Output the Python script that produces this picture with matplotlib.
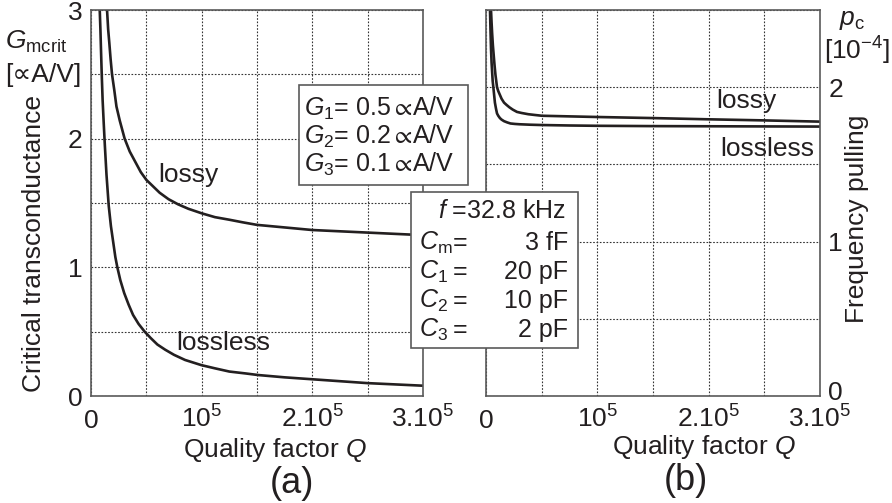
import matplotlib
matplotlib.use("Agg")
import matplotlib.pyplot as plt
import matplotlib.transforms as mtrans
from matplotlib.patches import Rectangle

plt.rcParams['font.family'] = ['Liberation Sans', 'DejaVu Sans']
plt.rcParams['mathtext.fontset'] = 'custom'
plt.rcParams['mathtext.rm'] = 'Liberation Sans'
plt.rcParams['mathtext.it'] = 'Liberation Sans:italic'
plt.rcParams['mathtext.bf'] = 'Liberation Sans:bold'
plt.rcParams['mathtext.fallback'] = 'stixsans'

########### DATA ###########
# (a) critical transconductance vs quality factor
q_a_lossless = [7900, 8500, 9000, 9700, 10500, 11500, 12500, 14000, 16000, 18000,
                20000, 22000, 23800, 26500, 30000, 34000, 38000, 43000, 48500, 54000,
                60000, 67000, 75000, 85000, 99700, 112000, 125000, 140000, 151000,
                175000, 200000, 225000, 250000, 275000, 300000]
g_lossless = [3.0, 2.85, 2.7, 2.5, 2.3, 2.12, 1.95, 1.72, 1.48, 1.32,
              1.2, 1.08, 1.0, 0.9, 0.8, 0.71, 0.63, 0.56, 0.5, 0.45,
              0.40, 0.36, 0.32, 0.28, 0.24, 0.215, 0.19, 0.175, 0.163,
              0.145, 0.13, 0.115, 0.10, 0.09, 0.08]
q_a_lossy = [14500, 15500, 16500, 17700, 19000, 21000, 23000, 26000, 30400, 35000,
             40000, 45000, 50000, 56000, 62000, 70000, 78600, 88000, 100000, 112000,
             125000, 137000, 150000, 175000, 200000, 225000, 250000, 275000, 300000]
g_lossy = [3.0, 2.85, 2.75, 2.62, 2.5, 2.38, 2.25, 2.14, 2.0, 1.9,
           1.82, 1.74, 1.68, 1.63, 1.58, 1.53, 1.49, 1.455, 1.42, 1.39,
           1.37, 1.35, 1.33, 1.31, 1.29, 1.28, 1.27, 1.26, 1.25]

# (b) frequency pulling vs quality factor
q_b_lossless = [3600, 4000, 4500, 5000, 5500, 6000, 6600, 7300, 8000, 9000,
                9900, 11000, 12500, 14000, 16200, 19000, 22000, 26000, 30000, 40000,
                50000, 75000, 100000, 150000, 200000, 300000]
p_lossless = [2.5, 2.38, 2.25, 2.16, 2.1, 2.04, 2.0, 1.95, 1.9, 1.86,
              1.83, 1.815, 1.8, 1.79, 1.78, 1.772, 1.765, 1.762, 1.76, 1.757,
              1.755, 1.752, 1.75, 1.748, 1.747, 1.745]
q_b_lossy = [4500, 5000, 5500, 6200, 7000, 7700, 8500, 9200, 9900, 11000,
             12500, 14000, 16200, 18500, 21000, 24000, 27800, 32000, 38000, 44000,
             50300, 75000, 100000, 150000, 200000, 250000, 300000]
p_lossy = [2.5, 2.42, 2.35, 2.27, 2.2, 2.14, 2.08, 2.04, 2.0, 1.975,
           1.95, 1.925, 1.9, 1.885, 1.87, 1.855, 1.84, 1.833, 1.825, 1.82,
           1.815, 1.811, 1.807, 1.8, 1.792, 1.785, 1.777]

x_ticks = [0, 50000, 100000, 150000, 200000, 250000, 300000]
x_ticklabels = ["0", "", "$10^5$", "", "$2.10^5$", "", "$3.10^5$"]
ya_ticks = [0, 0.5, 1, 1.5, 2, 2.5, 3]
ya_ticklabels = ["0", "", "1", "", "2", "", "3"]
yb_ticks = [0, 0.5, 1, 1.5, 2, 2.5]
yb_ticklabels = ["0", "", "1", "", "2", ""]

g_lines = [r"$G_1$= 0.5$\propto\!$A/V", r"$G_2$= 0.2$\propto\!$A/V",
           r"$G_3$= 0.1$\propto\!$A/V"]
c_names = [r"$C_{\rm m}$", r"$C_1$", r"$C_2$", r"$C_3$"]
c_values = ["3 fF", "20 pF", "10 pF", "2 pF"]
###################################################

W, H = 892, 503
INK = '#231f20'
EDGE = '#5a5a5a'
FS = 19
BOX_FS = 18


def fx(x):
    return x / W


def fy(y):
    return 1 - y / H


fig = plt.figure(figsize=(W / 100, H / 100), dpi=100)
ax_a = fig.add_axes([fx(91), fy(396), fx(423) - fx(91), fy(10) - fy(396)])
ax_b = fig.add_axes([fx(486), fy(396), fx(820) - fx(486), fy(10) - fy(396)])


def style(ax, yticks, ylabels, ymax, right=False):
    ax.set_xlim(0, 300000)
    ax.set_ylim(0, ymax)
    ax.set_xticks(x_ticks)
    ax.set_xticklabels(x_ticklabels)
    ax.set_yticks(yticks)
    ax.set_yticklabels(ylabels)
    if right:
        ax.yaxis.tick_right()
    ax.tick_params(length=0, labelsize=FS, colors=INK)
    ax.tick_params(axis='y', pad=6)
    ax.tick_params(axis='x', pad=23)
    for lbl in ax.get_xticklabels():
        lbl.set_va('baseline')
    ax.grid(True, linestyle=(0, (1.5, 1.5)), color='#333333', linewidth=0.8)
    for s in ax.spines.values():
        s.set_color(EDGE)
        s.set_linewidth(1.2)


style(ax_a, ya_ticks, ya_ticklabels, 3)
style(ax_b, yb_ticks, yb_ticklabels, 2.5, right=True)

# the right-hand "0" sits a little higher, clear of the 3.10^5 label
zero_lbl = ax_b.yaxis.get_major_ticks()[0].label2
zero_lbl.set_transform(zero_lbl.get_transform() +
                       mtrans.ScaledTranslation(0, 6 / 100, fig.dpi_scale_trans))

ax_a.plot(q_a_lossless, g_lossless, color=INK, lw=1.9)
ax_a.plot(q_a_lossy, g_lossy, color=INK, lw=1.9)
ax_b.plot(q_b_lossless, p_lossless, color=INK, lw=1.9)
ax_b.plot(q_b_lossy, p_lossy, color=INK, lw=1.9)

# curve labels
fig.text(fx(158), fy(182), "lossy", fontsize=FS, color=INK, va='baseline')
fig.text(fx(176), fy(350), "lossless", fontsize=FS, color=INK, va='baseline')
fig.text(fx(716), fy(108), "lossy", fontsize=FS, color=INK, va='baseline')
fig.text(fx(720), fy(156), "lossless", fontsize=FS, color=INK, va='baseline')

# axis titles
fig.text(fx(5), fy(49), r"$G_{\rm mcrit}$", fontsize=FS, color=INK, va='baseline')
fig.text(fx(5), fy(82), "[\u221dA/V]", fontsize=FS, color=INK, va='baseline')
fig.text(fx(34), fy(243), "Critical transconductance", fontsize=FS, color=INK,
         rotation=90, ha='center', va='center')
fig.text(fx(839), fy(25), r"$p_{\rm c}$", fontsize=FS, color=INK, va='baseline')
fig.text(fx(824), fy(60), r"[10$^{-4}$]", fontsize=FS, color=INK, va='baseline')
fig.text(fx(857), fy(219), "Frequency pulling", fontsize=FS, color=INK,
         rotation=90, ha='center', va='center')

fig.text(fx(275), fy(457), "Quality factor $Q$", fontsize=FS, color=INK,
         ha='center', va='baseline')
fig.text(fx(704), fy(454), "Quality factor $Q$", fontsize=FS, color=INK,
         ha='center', va='baseline')
fig.text(fx(292), fy(493), "(a)", fontsize=26, color=INK, ha='center', va='baseline')
fig.text(fx(686), fy(490), "(b)", fontsize=26, color=INK, ha='center', va='baseline')

# parameter boxes
fig.patches.append(Rectangle((fx(299), fy(185)), fx(468) - fx(299), fy(85) - fy(185),
                             transform=fig.transFigure, facecolor='white',
                             edgecolor=EDGE, lw=1.2, zorder=5))
for i, line in enumerate(g_lines):
    fig.text(fx(304), fy(116 + 28 * i), line, fontsize=BOX_FS, color=INK,
             va='baseline', zorder=6)

fig.patches.append(Rectangle((fx(411), fy(348)), fx(578) - fx(411), fy(192) - fy(348),
                             transform=fig.transFigure, facecolor='white',
                             edgecolor=EDGE, lw=1.2, zorder=5))
fig.text(fx(438), fy(218), "$f$ =32.8 kHz", fontsize=BOX_FS, color=INK,
         va='baseline', zorder=6)
for i, (name, val) in enumerate(zip(c_names, c_values)):
    yb = fy(250 + 29 * i)
    fig.text(fx(419), yb, name, fontsize=BOX_FS, color=INK, va='baseline', zorder=6)
    fig.text(fx(453), yb, "=", fontsize=BOX_FS, color=INK, va='baseline', zorder=6)
    fig.text(fx(568), yb, val, fontsize=BOX_FS, color=INK, ha='right',
             va='baseline', zorder=6)

fig.savefig("out.png", dpi=100)
